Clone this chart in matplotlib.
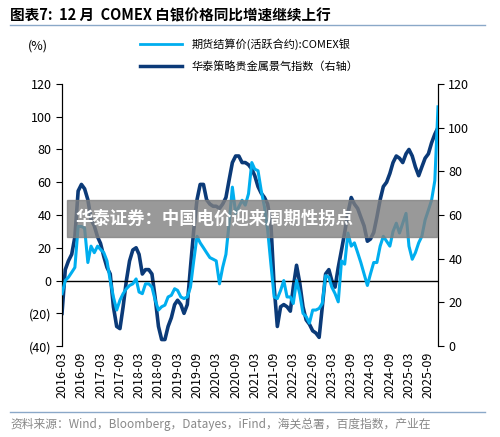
import matplotlib
matplotlib.use("Agg")
import matplotlib.pyplot as plt
import numpy as np
import pandas as pd

plt.rcParams['font.family'] = ['Noto Sans CJK SC', 'DejaVu Sans']

dates = pd.date_range("2016-03-01", periods=118, freq="MS")
silver = [-8,0,2,5,8,33,33,32,11,21,17,21,19,17,12,0,-10,-18,-12,-8,-5,-3,-2,1,-7,-8,-2,-2,-4,-12,
          -18,-16,-15,-10,-9,-5,-6,-10,-11,-10,-4,12,27,23,20,17,14,13,12,-2,8,16,35,57,41,45,49,46,53,72,
          68,67,55,45,31,10,-10,-11,-6,0,-10,-10,-14,0,-8,-20,-22,-26,-18,-18,-17,-14,3,2,-4,-8,-13,12,10,29,
          21,23,17,11,4,-3,4,11,11,21,27,24,21,30,35,29,35,41,21,13,17,23,27,37,43,49,61,106]
index = [15,35,39,42,50,71,74,72,67,58,55,50,47,41,36,33,18,9,8,18,30,39,44,45,42,33,35,35,33,22,
         9,3,3,9,13,19,21,19,15,19,36,53,67,74,74,67,65,64,64,63,65,68,76,84,87,87,84,84,83,81,
         78,73,70,68,65,56,27,9,18,19,18,16,27,37,29,18,12,10,7,6,4,18,33,35,30,27,36,44,52,61,
         68,65,63,59,55,48,49,52,59,67,73,75,79,84,87,86,84,88,90,87,82,78,82,86,88,93,97,100]
tick_dates = pd.date_range("2016-03-01", "2025-09-01", freq="6MS")
tick_labels = [d.strftime("%Y-%m") for d in tick_dates]

light = "#00AEEF"
dark = "#0B3A78"

fig = plt.figure(figsize=(5, 4.37), dpi=100)
ax = fig.add_axes([0.124, 0.208, 0.752, 0.60])
ax2 = ax.twinx()
ax.plot(dates, silver, color=light, lw=2.2, zorder=3)
ax2.plot(dates, index, color=dark, lw=2.6, zorder=2)
ax.set_zorder(ax2.get_zorder() + 1); ax.patch.set_visible(False)

ax.set_ylim(-40, 120); ax.set_yticks(range(-40, 121, 20))
ax.set_yticklabels([f"({-v})" if v < 0 else str(v) for v in range(-40, 121, 20)])
ax2.set_ylim(0, 120); ax2.set_yticks(range(0, 121, 20))
ax.set_xlim(dates[0], dates[-1])
ax.set_xticks(tick_dates); ax.set_xticklabels(tick_labels, rotation=90)
ax.axhline(0, color="black", lw=1, zorder=1)
for a in (ax, ax2):
    for s in ("top", "bottom"):
        a.spines[s].set_visible(False)
    a.tick_params(labelsize=9)
ax.tick_params(axis="x", length=0, pad=4)
ax.tick_params(axis="y", length=4)
ax2.tick_params(axis="y", length=4)

fig.text(0.075, 0.895, "(%)", fontsize=9, ha="center", va="center")
fig.legend(handles=[plt.Line2D([], [], color=light, lw=2), plt.Line2D([], [], color=dark, lw=2.5)],
           labels=["期货结算价(活跃合约):COMEX银", "华泰策略贵金属景气指数（右轴）"],
           loc="upper left", bbox_to_anchor=(0.26, 0.935), frameon=False, fontsize=8,
           handlelength=3.8, labelspacing=1.0)

fig.text(0.02, 0.965, "图表7:  12 月  COMEX 白银价格同比增速继续上行", fontsize=10.5, fontweight="bold", va="center")
fig.add_artist(plt.Line2D([0.02, 0.97], [0.943, 0.943], color="#8AA8C8", lw=1))
fig.add_artist(plt.Line2D([0.02, 0.97], [0.057, 0.057], color="#8AA8C8", lw=1))
fig.text(0.02, 0.028, "资料来源：Wind，Bloomberg，Datayes，iFind，海关总署，百度指数，产业在",
         fontsize=8.5, color="#888888", va="center")

fig.patches.append(plt.Rectangle((0.134, 0.458), 0.74, 0.085, transform=fig.transFigure,
                                 color="#808080", alpha=0.8, zorder=10))
fig.text(0.15, 0.5, "华泰证券：中国电价迎来周期性拐点", fontsize=12.5, fontweight="bold",
         color="white", va="center", zorder=11)

fig.savefig("out.png", dpi=100)
